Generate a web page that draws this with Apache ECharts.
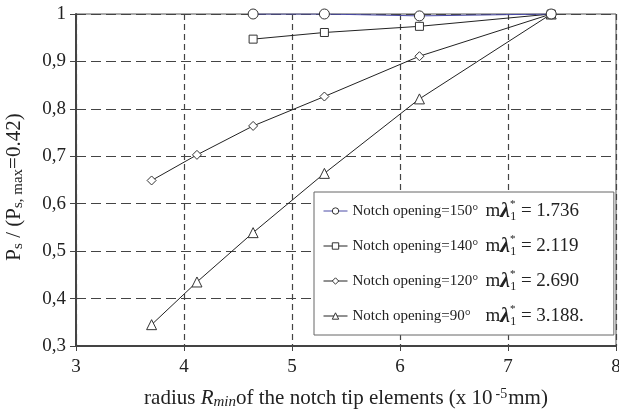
<!DOCTYPE html>
<html>
<head>
<meta charset="utf-8">
<script src="https://cdn.jsdelivr.net/npm/echarts@6/dist/echarts.min.js"></script>
<style>
  html, body { margin: 0; padding: 0; background: #fff; }
  #chart { width: 619px; height: 412px; }
</style>
</head>
<body>
<div id="chart"></div>
<script>
// Tip radius R_min (x 10^-5 mm) at which each run was made
const radius = [3.70, 4.12, 4.64, 5.30, 6.18, 7.40];

// Normalised load P_s / P_s,max for each notch opening (null = not computed)
const open150 = [null, null, 1.000, 1.000, 0.996, 1.000];
const open140 = [null, null, 0.947, 0.961, 0.974, 1.000];
const open120 = [0.649, 0.703, 0.764, 0.826, 0.911, 1.000];
const open90  = [0.345, 0.435, 0.539, 0.664, 0.821, 1.000];

const seriesNames = ['Notch opening=150°', 'Notch opening=140°', 'Notch opening=120°', 'Notch opening=90°'];
const lambdaValues = ['1.736', '2.119', '2.690', '3.188.'];

const xTicks = [3, 4, 5, 6, 7, 8];
const yTicks = [0.3, 0.4, 0.5, 0.6, 0.7, 0.8, 0.9, 1];

const serif = '"Liberation Serif", "DejaVu Serif", serif';
const ink = '#222';

function pairs(values) {
  return radius.map((r, i) => [r, values[i]]).filter(p => p[1] !== null);
}

function makeSeries(name, values, symbol, size, lineColor) {
  return {
    name: name,
    type: 'line',
    data: pairs(values),
    symbol: symbol,
    symbolSize: size,
    showSymbol: true,
    lineStyle: { color: lineColor, width: 1 },
    itemStyle: { color: '#fff', borderColor: '#333', borderWidth: 1 },
    emphasis: { disabled: true },
    animation: false
  };
}

const chart = echarts.init(document.getElementById('chart'), null, { renderer: 'canvas' });

chart.setOption({
  backgroundColor: '#fff',
  animation: false,
  grid: {
    left: 76, right: 3, top: 14, bottom: 66,
    outerBoundsMode: 'none',
    containLabel: false,
    show: true, borderColor: '#555', borderWidth: 1
  },
  xAxis: {
    type: 'value',
    min: xTicks[0], max: xTicks[xTicks.length - 1], interval: 1,
    axisLine: { onZero: false, lineStyle: { color: '#444', width: 2 } },
    axisTick: { show: true, length: 5, lineStyle: { color: '#444' } },
    axisLabel: { color: ink, fontFamily: serif, fontSize: 19, margin: 12 },
    splitLine: { show: true, lineStyle: { color: '#444', width: 1.2, type: [6, 4] } },
    name: '{t|radius }{i|R}{is|min}{t|of the notch tip elements (x 10}{sup|-5}{t|mm)}',
    nameLocation: 'middle',
    nameGap: 41,
    nameTextStyle: {
      rich: {
        t: { fontFamily: serif, fontSize: 21, color: ink },
        i: { fontFamily: serif, fontSize: 21, fontStyle: 'italic', color: ink },
        is: { fontFamily: serif, fontSize: 15, fontStyle: 'italic', color: ink, verticalAlign: 'bottom', padding: [8, 0, 0, 0] },
        sup: { fontFamily: serif, fontSize: 14, color: ink, verticalAlign: 'top', padding: [0, 1, 8, 3] }
      }
    }
  },
  yAxis: {
    type: 'value',
    min: 0.3, max: 1, interval: 0.1,
    axisLine: { onZero: false, lineStyle: { color: '#444', width: 2 } },
    axisTick: { show: true, length: 6, lineStyle: { color: '#444' } },
    axisLabel: {
      color: ink, fontFamily: serif, fontSize: 19, margin: 10,
      formatter: v => (Math.abs(v - 1) < 1e-9 ? '1' : v.toFixed(1).replace('.', ','))
    },
    splitLine: { show: true, lineStyle: { color: '#444', width: 1.2, type: [10, 5] } },
    name: '{p|P}{s|s}{p| / (P}{s|s, max}{p|=0.42)}',
    nameLocation: 'middle',
    nameGap: 50,
    nameTextStyle: {
      padding: [0, 14, 0, 0],
      rich: {
        p: { fontFamily: serif, fontSize: 21, color: ink },
        s: { fontFamily: serif, fontSize: 15, color: ink, verticalAlign: 'bottom', padding: [8, 0, 0, 0] }
      }
    }
  },
  legend: {
    data: seriesNames,
    orient: 'vertical',
    left: 314, top: 192,
    padding: [7, 30, 7, 9],
    itemGap: 11,
    itemWidth: 24,
    itemHeight: 8,
    backgroundColor: '#fff',
    borderColor: '#666',
    borderWidth: 1,
    borderRadius: 0,
    selectedMode: false,
    lineStyle: { width: 1 },
    itemStyle: { borderWidth: 1 },
    formatter: name => {
      const v = lambdaValues[seriesNames.indexOf(name)];
      return '{n|' + name + '}{m|m}{l|λ}{sup|*}{sub|1}{v| = ' + v + '}';
    },
    textStyle: {
      color: ink,
      rich: {
        n: { fontFamily: serif, fontSize: 15, color: ink, width: 133, lineHeight: 24 },
        m: { fontFamily: serif, fontSize: 19, color: ink, lineHeight: 24 },
        l: { fontFamily: serif, fontSize: 22, fontStyle: 'italic', fontWeight: 'bold', color: ink, lineHeight: 24 },
        sup: { fontFamily: serif, fontSize: 11, color: ink, verticalAlign: 'top', lineHeight: 24, width: 0.1, padding: [0, 0, 8, 0] },
        sub: { fontFamily: serif, fontSize: 12, color: ink, verticalAlign: 'bottom', lineHeight: 24, padding: [8, 0, 0, 0] },
        v: { fontFamily: serif, fontSize: 19, color: ink, lineHeight: 24 }
      }
    }
  },
  series: [
    makeSeries(seriesNames[3], open90, 'triangle', 10, '#222'),
    makeSeries(seriesNames[2], open120, 'diamond', 9, '#222'),
    makeSeries(seriesNames[1], open140, 'rect', 8, '#222'),
    makeSeries(seriesNames[0], open150, 'circle', 10, '#4a4aa6')
  ]
});
</script>
</body>
</html>
